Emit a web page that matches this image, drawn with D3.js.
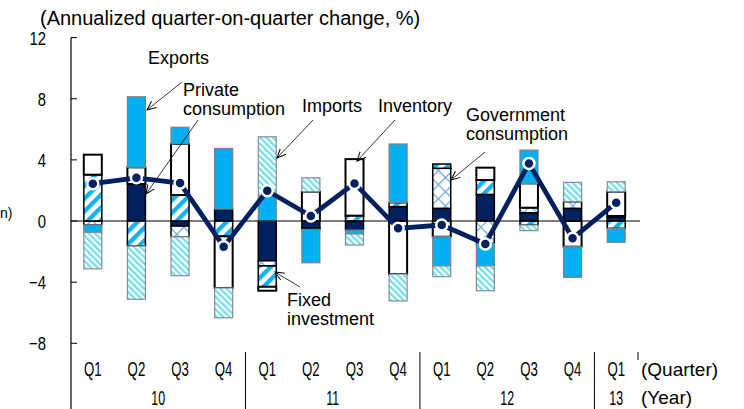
<!DOCTYPE html>
<html>
<head>
<meta charset="utf-8">
<script src="https://cdn.jsdelivr.net/npm/d3@7"></script>
<style>
  body { margin: 0; background: #fff; }
  svg { display: block; }
  text { font-family: "Liberation Sans", Arial, sans-serif; fill: #000; }
</style>
</head>
<body>
<svg id="chart" width="744" height="409"></svg>
<script>
const quarters = ["Q1", "Q2", "Q3", "Q4", "Q1", "Q2", "Q3", "Q4", "Q1", "Q2", "Q3", "Q4", "Q1"];
const yearLabels = ["10", "11", "12", "13"];
const yearSpans = [4, 4, 4, 1];
const yTicks = [12, 8, 4, 0, -4, -8];

// contributions, % points (stack order as in the picture)
const privateConsumption = [0, 2.42, -0.33, 0.78, -2.6, -0.45, -0.59, 0.94, 0.83, 1.74, 0.54, 0.83, 0.25];
const governmentConsumption = [-0.25, 0, -0.7, 0, -0.34, 0, 0, 0, 2.62, -1.46, 0.33, 0.43, 0.08];
const fixedInvestment = [3.03, -1.64, 1.7, -1.0, -1.36, -0.1, 0.35, 0.26, 0.28, 0.94, -0.26, 0, -0.48];
const inventory = [1.31, 1.09, 3.34, -3.38, -0.26, 1.92, 3.7, -3.47, -1.03, 0.81, 1.59, -1.68, 1.59];
const exportsC = [-0.5, 4.62, 1.09, 3.97, 1.64, -2.18, -0.26, 3.84, -1.91, -1.48, 2.18, -2.0, -0.91];
const importsC = [-2.38, -3.48, -2.55, -1.95, 3.87, 0.91, -0.72, -1.76, -0.7, -1.62, -0.37, 1.27, 0.65];
const gdp = [2.44, 2.83, 2.48, -1.68, 1.98, 0.33, 2.46, -0.48, -0.26, -1.5, 3.77, -1.13, 1.2];

const keys = ["pc", "gc", "fi", "inv", "exp", "imp"];
const rows = quarters.map((q, i) => ({
  i: i,
  pc: privateConsumption[i],
  gc: governmentConsumption[i],
  fi: fixedInvestment[i],
  inv: inventory[i],
  exp: exportsC[i],
  imp: importsC[i]
}));

const svg = d3.select("#chart");
const plotLeft = 71, plotRight = 638, plotTop = 37.6, plotBottom = 343.3;

const x = d3.scaleBand().domain(d3.range(quarters.length)).range([plotLeft, plotRight]).padding(0);
const y = d3.scaleLinear().domain([-8, 12]).range([plotBottom, plotTop]);
const barW = 18;

// squeeze glyphs horizontally (the original axis font is a narrow one)
function squeeze(sel, f) {
  sel.each(function () {
    const w = this.getComputedTextLength();
    d3.select(this).attr("textLength", w * f).attr("lengthAdjust", "spacingAndGlyphs");
  });
}

// patterns
const defs = svg.append("defs");

const pFi = defs.append("pattern")
  .attr("id", "pat-fi").attr("patternUnits", "userSpaceOnUse")
  .attr("width", 9).attr("height", 9)
  .attr("patternTransform", "rotate(45)");
pFi.append("rect").attr("width", 9).attr("height", 9).attr("fill", "#fff");
pFi.append("rect").attr("width", 4.4).attr("height", 9).attr("fill", "#12b2ee");

const pImp = defs.append("pattern")
  .attr("id", "pat-imp").attr("patternUnits", "userSpaceOnUse")
  .attr("width", 4.5).attr("height", 4.5)
  .attr("patternTransform", "rotate(-45)");
pImp.append("rect").attr("width", 4.5).attr("height", 4.5).attr("fill", "#fff");
pImp.append("rect").attr("width", 2.3).attr("height", 4.5).attr("fill", "#72e0ee");

const pGc = defs.append("pattern")
  .attr("id", "pat-gc").attr("patternUnits", "userSpaceOnUse")
  .attr("width", 10).attr("height", 10)
  .attr("patternTransform", "rotate(45)");
pGc.append("rect").attr("width", 10).attr("height", 10).attr("fill", "#fff");
pGc.append("path").attr("d", "M0,0H10M0,0V10").attr("stroke", "#6fa6de").attr("stroke-width", 2.4);

defs.append("marker")
  .attr("id", "arrow").attr("viewBox", "0 0 10 10")
  .attr("refX", 9).attr("refY", 5)
  .attr("markerWidth", 10).attr("markerHeight", 10)
  .attr("markerUnits", "userSpaceOnUse")
  .attr("orient", "auto")
  .append("path").attr("d", "M0,1L9,5L0,9")
  .attr("fill", "none").attr("stroke", "#000").attr("stroke-width", 1);

const styles = {
  pc: { fill: "#002060", stroke: "#000", sw: 1.5 },
  gc: { fill: "url(#pat-gc)", stroke: "#000", sw: 1.5 },
  fi: { fill: "url(#pat-fi)", stroke: "#000", sw: 1.5 },
  inv: { fill: "#fff", stroke: "#000", sw: 2 },
  exp: { fill: "#00b0f0", stroke: "#7f7f7f", sw: 1.2 },
  imp: { fill: "url(#pat-imp)", stroke: "#8c8c8c", sw: 1.2 }
};

// title
svg.append("text").attr("x", 40).attr("y", 25)
  .style("font-size", "20px")
  .text("(Annualized quarter-on-quarter change, %)");

// left-edge fragment of a neighbouring label, as in the picture
svg.append("text").attr("x", 0).attr("y", 218)
  .style("font-size", "14px")
  .text("n)");

// y axis
svg.append("line").attr("x1", plotLeft).attr("x2", plotLeft).attr("y1", plotTop).attr("y2", 409)
  .attr("stroke", "#000").attr("stroke-width", 1.2);
svg.selectAll("line.ytick").data(yTicks).enter().append("line")
  .attr("class", "ytick")
  .attr("x1", plotLeft).attr("x2", plotLeft + 6)
  .attr("y1", d => y(d)).attr("y2", d => y(d))
  .attr("stroke", "#000").attr("stroke-width", 1);
svg.selectAll("text.ylab").data(yTicks).enter().append("text")
  .attr("class", "ylab")
  .attr("x", 46).attr("y", d => y(d) + 7)
  .attr("text-anchor", "end")
  .style("font-size", "19px")
  .text(d => d < 0 ? "\u2212" + Math.abs(d) : d)
  .call(squeeze, 0.78);

// bars
const stack = d3.stack().keys(keys).offset(d3.stackOffsetDiverging);
const series = stack(rows);

const layers = svg.append("g").selectAll("g.layer")
  .data(series).enter().append("g")
  .attr("class", "layer");

layers.selectAll("rect")
  .data(s => s.map(d => ({ key: s.key, y0: d[0], y1: d[1], i: d.data.i }))
    .filter(d => Math.abs(d.y1 - d.y0) > 0.001))
  .enter().append("rect")
  .attr("x", d => x(d.i) + (x.bandwidth() - barW) / 2)
  .attr("width", barW)
  .attr("y", d => y(Math.max(d.y0, d.y1)))
  .attr("height", d => Math.abs(y(d.y0) - y(d.y1)))
  .attr("fill", d => styles[d.key].fill)
  .attr("stroke", d => styles[d.key].stroke)
  .attr("stroke-width", d => styles[d.key].sw);

// zero line
svg.append("line").attr("x1", plotLeft).attr("x2", plotRight + 2)
  .attr("y1", y(0)).attr("y2", y(0))
  .attr("stroke", "#000").attr("stroke-width", 1.2);

// GDP line
const line = d3.line().x((d, i) => x(i) + x.bandwidth() / 2).y(d => y(d));
svg.append("path").datum(gdp)
  .attr("d", line)
  .attr("fill", "none").attr("stroke", "#002060").attr("stroke-width", 4.8)
  .attr("stroke-linejoin", "round");
svg.selectAll("circle.gdp").data(gdp).enter().append("circle")
  .attr("class", "gdp")
  .attr("cx", (d, i) => x(i) + x.bandwidth() / 2)
  .attr("cy", d => y(d))
  .attr("r", 5.5)
  .attr("fill", "#002060").attr("stroke", "#fff").attr("stroke-width", 2.5);

// x axis labels
svg.selectAll("text.qlab").data(quarters).enter().append("text")
  .attr("class", "qlab")
  .attr("x", (d, i) => x(i) + x.bandwidth() / 2)
  .attr("y", 376)
  .attr("text-anchor", "middle")
  .style("font-size", "20px")
  .text(d => d)
  .call(squeeze, 0.66);

let acc = 0;
const yearPos = yearSpans.map(n => { const s = acc; acc += n; return { s: s, n: n }; });
svg.selectAll("text.yrlab").data(yearLabels).enter().append("text")
  .attr("class", "yrlab")
  .attr("x", (d, i) => x(yearPos[i].s) + x.bandwidth() * yearPos[i].n / 2)
  .attr("y", 405)
  .attr("text-anchor", "middle")
  .style("font-size", "20px")
  .text(d => d)
  .call(squeeze, 0.62);

// year separators
svg.selectAll("line.ysep").data(yearPos.slice(1)).enter().append("line")
  .attr("class", "ysep")
  .attr("x1", d => x(d.s)).attr("x2", d => x(d.s))
  .attr("y1", 352).attr("y2", 409)
  .attr("stroke", "#000").attr("stroke-width", 1);
svg.append("line").attr("x1", plotRight).attr("x2", plotRight).attr("y1", 352).attr("y2", 360)
  .attr("stroke", "#000").attr("stroke-width", 1);

svg.append("text").attr("x", 641).attr("y", 376)
  .style("font-size", "19px").text("(Quarter)");
svg.append("text").attr("x", 641).attr("y", 404)
  .style("font-size", "19px").text("(Year)");

// annotations
const notes = [
  { lines: ["Exports"], x: 148, y: 64 },
  { lines: ["Private", "consumption"], x: 183, y: 96 },
  { lines: ["Imports"], x: 302, y: 112 },
  { lines: ["Inventory"], x: 378, y: 112 },
  { lines: ["Government", "consumption"], x: 466, y: 121 },
  { lines: ["Fixed", "investment"], x: 287, y: 306 }
];
notes.forEach(n => {
  const t = svg.append("text").attr("x", n.x).attr("y", n.y).style("font-size", "18px");
  n.lines.forEach((l, k) => t.append("tspan").attr("x", n.x).attr("dy", k ? 19 : 0).text(l));
});

const arrows = [
  [182, 82, 147, 110],
  [198, 120, 146, 194],
  [313, 120, 277, 158],
  [395, 120, 357, 161],
  [485, 152, 451, 180],
  [300, 287, 275, 272]
];
svg.selectAll("line.arrow").data(arrows).enter().append("line")
  .attr("class", "arrow")
  .attr("x1", d => d[0]).attr("y1", d => d[1])
  .attr("x2", d => d[2]).attr("y2", d => d[3])
  .attr("stroke", "#000").attr("stroke-width", 0.8)
  .attr("marker-end", "url(#arrow)");
</script>
</body>
</html>
